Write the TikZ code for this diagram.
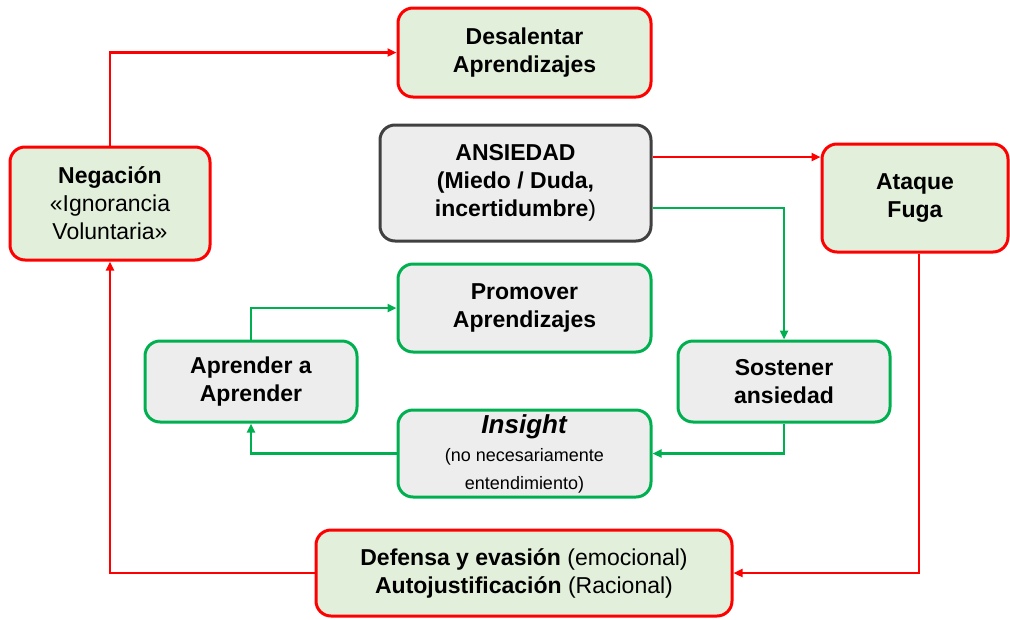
\documentclass[tikz,border=0pt]{standalone}
\usepackage{fontspec}
\setmainfont{Liberation Sans}
\usetikzlibrary{arrows.meta}
\definecolor{boxred}{HTML}{FF0000}
\definecolor{boxgreen}{HTML}{00B050}
\definecolor{fillgreen}{HTML}{E2EFDA}
\definecolor{fillgray}{HTML}{EDEDED}
\definecolor{edgegray}{HTML}{404040}
\newcommand{\bigtxt}{\fontsize{23}{28}\selectfont}
\begin{document}
\begin{tikzpicture}[x=1pt,y=-1pt,
  box/.style={rounded corners=15pt,line width=3pt,align=center,inner sep=4pt,font=\bigtxt},
  redbox/.style={box,draw=boxred,fill=fillgreen},
  greenbox/.style={box,draw=boxgreen,fill=fillgray},
  graybox/.style={box,draw=edgegray,fill=fillgray},
  redline/.style={->,draw=boxred,line width=2.4pt},
  greenline/.style={->,draw=boxgreen,line width=2.4pt},
  >={Triangle[length=9pt,width=8pt]}]
  \useasboundingbox (0,0) rectangle (1010,619);
  \node[redbox,minimum width=253pt,minimum height=89pt] (desal) at (524.5,52.5) {\textbf{Desalentar}\\\textbf{Aprendizajes}};
  \node[graybox,minimum width=271pt,minimum height=116pt] (ans) at (515.5,183) {\textbf{ANSIEDAD}\\\textbf{(Miedo / Duda,}\\\textbf{incertidumbre})};
  \node[redbox,minimum width=200pt,minimum height=113pt] (neg) at (110,203.5) {\textbf{Negación}\\«Ignorancia\\Voluntaria»};
  \node[redbox,minimum width=186pt,minimum height=108pt] (ata) at (915,198) {\textbf{Ataque}\\\textbf{Fuga}};
  \node[greenbox,minimum width=253pt,minimum height=88pt] (prom) at (524.5,308) {\textbf{Promover}\\\textbf{Aprendizajes}};
  \node[greenbox,minimum width=212pt,minimum height=81pt] (apr) at (251,381.5) {\textbf{Aprender a}\\\textbf{Aprender}};
  \node[greenbox,minimum width=212pt,minimum height=81pt] (sos) at (784,381.5) {\textbf{Sostener}\\\textbf{ansiedad}};
  \node[greenbox,minimum width=253pt,minimum height=87pt] (ins) at (524.5,453.5) {{\fontsize{26}{28}\selectfont\textbf{\textit{Insight}}}\\{\fontsize{18}{23}\selectfont(no necesariamente}\\{\fontsize{18}{23}\selectfont entendimiento)}};
  \node[redbox,minimum width=416pt,minimum height=86pt] (def) at (524,573) {\textbf{Defensa y evasión} (emocional)\\\textbf{Autojustificación} (Racional)};
  % red loop
  \draw[redline] (neg.north) |- (desal.west);
  \draw[redline] ([yshift=26pt]ans.east) -- ([yshift=26pt]ans.east -| ata.west);
  \draw[redline] ([xshift=4pt]ata.south) |- (def.east);
  \draw[redline] (def.west) -| (neg.south);
  % green loop
  \draw[greenline] ([yshift=-25pt]ans.east) -| (sos.north);
  \draw[greenline] (sos.south) |- (ins.east);
  \draw[greenline] (ins.west) -| (apr.south);
  \draw[greenline] (apr.north) |- (prom.west);
\end{tikzpicture}
\end{document}
